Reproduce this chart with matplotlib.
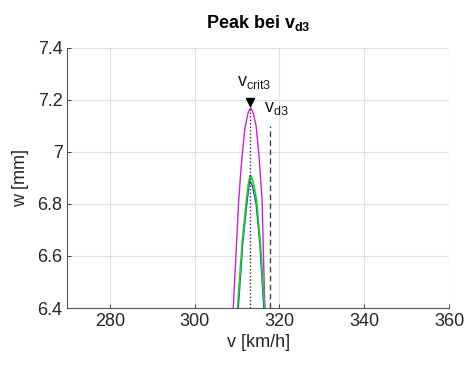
import matplotlib.pyplot as plt
import numpy as np

plt.rcParams['font.family'] = ['Liberation Sans', 'DejaVu Sans']

# curve data
v_mag = [309.1, 310.4, 311.05, 311.85, 312.6, 313.2, 313.8, 314.5, 315.2, 315.9, 316.55]
w_mag = [6.40, 6.815, 6.96, 7.09, 7.15, 7.17, 7.15, 7.10, 6.98, 6.815, 6.40]

v_blue = [310.3, 311.3, 312.3, 313.0, 313.6, 314.5, 315.4, 316.3]
w_blue = [6.40, 6.64, 6.80, 6.89, 6.87, 6.80, 6.64, 6.40]

v_grn = [310.1, 311.2, 312.2, 312.7, 313.1, 313.5, 314.0, 314.6, 315.5, 316.5]
w_grn = [6.40, 6.65, 6.815, 6.88, 6.91, 6.90, 6.87, 6.815, 6.65, 6.40]

v_crit3 = 313.0
w_crit3 = 7.19
v_d3 = 317.8
w_d3_top = 7.1

xticks = [280, 300, 320, 340, 360]
yticks = [6.4, 6.6, 6.8, 7.0, 7.2, 7.4]
ylabels = ['6.4', '6.6', '6.8', '7', '7.2', '7.4']

fig = plt.figure(figsize=(4.67, 3.68), dpi=100)
ax = fig.add_axes([0.1445, 0.163, 0.817, 0.707])

ax.plot(v_mag, w_mag, color='#d020d0', lw=1.0)
ax.plot(v_blue, w_blue, color='#2050c8', lw=1.0)
ax.plot(v_grn, w_grn, color='#20d020', lw=1.2)

ax.plot([v_crit3, v_crit3], [6.4, w_crit3], color='#333333', lw=1.0, ls=(0, (1, 1.5)))
ax.plot([v_d3, v_d3], [6.4, w_d3_top], color='#444444', lw=1.0, ls=(0, (4, 2.5)))
ax.plot(v_crit3, w_crit3, marker='v', color='black', ms=6, ls='none')

ax.text(310.0, 7.235, r'v$_{\mathregular{crit3}}$', fontsize=13, ha='left', va='bottom', color='#1a1a1a')
ax.text(316.4, 7.135, r'v$_{\mathregular{d3}}$', fontsize=13, ha='left', va='bottom', color='#1a1a1a')

ax.set_xlim(270, 360)
ax.set_ylim(6.4, 7.4)
ax.set_xticks(xticks)
ax.set_yticks(yticks)
ax.set_yticklabels(ylabels)
ax.tick_params(direction='in', length=3, labelsize=13, colors='#262626', width=0.6)
ax.grid(True, color='#e0e0e0', lw=0.8)
ax.set_axisbelow(True)
for s in ['top', 'right']:
    ax.spines[s].set_visible(False)
for s in ['left', 'bottom']:
    ax.spines[s].set_color('#555555')
    ax.spines[s].set_linewidth(0.8)

ax.set_xlabel('v [km/h]', fontsize=13, color='#262626', labelpad=3)
ax.set_ylabel('w [mm]', fontsize=13, color='#262626', labelpad=6)
ax.set_title(r'Peak bei v$_{\mathregular{d3}}$', fontsize=13, fontweight='bold', pad=14)

fig.savefig('out.png', dpi=100)
